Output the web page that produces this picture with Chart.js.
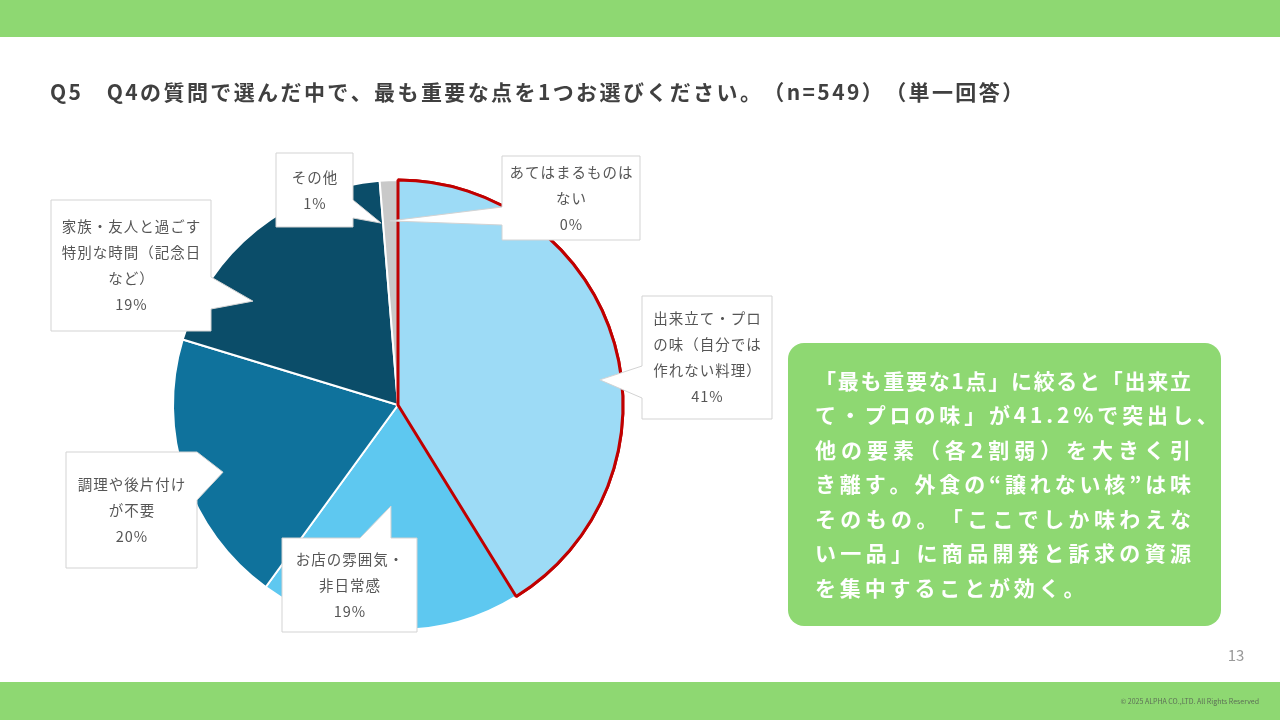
<!DOCTYPE html>
<html lang="ja">
<head>
<meta charset="UTF-8">
<title>Q5 最も重要な点</title>
<script src="https://cdn.jsdelivr.net/npm/chart.js"></script>
<style>
  html, body { margin: 0; padding: 0; background: #fff; }
  #slide { display: block; }
</style>
</head>
<body>
<canvas id="slide" width="1280" height="720"></canvas>
<script>
// data
const categories = [
  '出来立て・プロの味（自分では作れない料理）',
  'お店の雰囲気・非日常感',
  '調理や後片付けが不要',
  '家族・友人と過ごす特別な時間（記念日など）',
  'その他',
  'あてはまるものはない'
];
const shares = [41.2, 18.8, 19.7, 19.0, 1.3, 0.0];
const sliceColors = ['#9ddbf6', '#5ec8f0', '#0f729c', '#0b4d69', '#c9c9c9', '#ffffff'];

const titleText = 'Q5　Q4の質問で選んだ中で、最も重要な点を1つお選びください。（n=549）（単一回答）';
const noteLines = [
  '「最も重要な1点」に絞ると「出来立',
  'て・プロの味」が41.2%で突出し、',
  '他の要素（各2割弱）を大きく引',
  'き離す。外食の“譲れない核”は味',
  'そのもの。「ここでしか味わえな',
  'い一品」に商品開発と訴求の資源',
  'を集中することが効く。'
];

// callout boxes: box, pointer base on one side, tip in polar coords around pie centre
const callouts = [
  { box: [642, 296, 130, 123], side: 'left',  base: [366, 398], tip: [82.9, 0.904], wrap: 7 },
  { box: [282, 538, 135, 94],  side: 'top',   base: [360, 391], tip: [184.0, 0.45], wrap: 7 },
  { box: [66, 452, 131, 116],  side: 'right', base: [452, 500], tip: [249.0, 0.833], wrap: 7 },
  { box: [51, 200, 160, 131],  side: 'right', base: [277, 309], tip: [305.6, 0.793], wrap: 9 },
  { box: [276, 153, 77, 74],   side: 'right', base: [200, 218], tip: [354.7, 0.812], wrap: 9 },
  { box: [502, 156, 138, 84],  side: 'left',  base: [207, 225], tip: [357.5, 0.819], wrap: 8 }
];

const FONT = '"Noto Sans CJK JP", "Noto Sans", sans-serif';
const GREEN = '#8ed872';

function chunk(str, n) {
  const chars = Array.from(str);
  const out = [];
  for (let i = 0; i < chars.length; i += n) out.push(chars.slice(i, i + n).join(''));
  return out;
}

// draw char by char so punctuation is not squeezed together
function spaced(ctx, str, x, y, gap) {
  Array.from(str).forEach(ch => {
    ctx.fillText(ch, x, y);
    x += ctx.measureText(ch).width + gap;
  });
  return x;
}
function plainWidth(ctx, str) {
  return Array.from(str).reduce((s, ch) => s + ctx.measureText(ch).width, 0);
}

function roundRect(ctx, x, y, w, h, r) {
  ctx.beginPath();
  ctx.moveTo(x + r, y);
  ctx.arcTo(x + w, y, x + w, y + h, r);
  ctx.arcTo(x + w, y + h, x, y + h, r);
  ctx.arcTo(x, y + h, x, y, r);
  ctx.arcTo(x, y, x + w, y, r);
  ctx.closePath();
}

const slidePlugin = {
  id: 'slide',
  beforeDraw(chart) {
    const ctx = chart.ctx;
    ctx.save();
    ctx.fillStyle = '#fff';
    ctx.fillRect(0, 0, 1280, 720);
    // top / bottom bars
    ctx.fillStyle = GREEN;
    ctx.fillRect(0, 0, 1280, 37);
    ctx.fillRect(0, 682, 1280, 38);

    // title
    ctx.fillStyle = '#404040';
    ctx.font = 'bold 21px ' + FONT;
    ctx.textBaseline = 'middle';
    ctx.textAlign = 'left';
    spaced(ctx, titleText, 50, 92, 2.4);

    // comment box
    ctx.fillStyle = GREEN;
    roundRect(ctx, 788, 343, 433, 283, 16);
    ctx.fill();
    ctx.fillStyle = '#fff';
    ctx.font = 'bold 21px ' + FONT;
    const full = [0, 2, 3, 4, 5];
    const gaps = full.map(i => {
      const n = Array.from(noteLines[i]).length;
      return (376 - plainWidth(ctx, noteLines[i])) / (n - 1);
    });
    const avg = gaps.reduce((a, b) => a + b, 0) / gaps.length;
    noteLines.forEach((line, i) => {
      const k = full.indexOf(i);
      spaced(ctx, line, 815, 381 + i * 34.5, k >= 0 ? gaps[k] : avg);
    });

    // page number + copyright
    ctx.fillStyle = '#9a9a9a';
    ctx.font = '15px ' + FONT;
    ctx.textAlign = 'center';
    ctx.fillText('13', 1236, 655);
    ctx.fillStyle = '#5d6f57';
    ctx.font = '7px ' + FONT;
    ctx.textAlign = 'right';
    ctx.fillText('© 2025 ALPHA CO.,LTD. All Rights Reserved', 1259, 701);
    ctx.restore();
  },
  afterDatasetsDraw(chart) {
    const ctx = chart.ctx;
    const arcs = chart.getDatasetMeta(0).data;
    // bring the highlighted slice's red outline on top
    arcs[0].draw(ctx);

    const cx = arcs[0].x, cy = arcs[0].y, R = arcs[0].outerRadius;
    ctx.save();
    callouts.forEach((c, i) => {
      const [x, y, w, h] = c.box;
      const a = c.tip[0] * Math.PI / 180;
      const tx = cx + Math.sin(a) * R * c.tip[1];
      const ty = cy - Math.cos(a) * R * c.tip[1];
      const pts = [[x, y]];
      if (c.side === 'top') pts.push([c.base[0], y], [tx, ty], [c.base[1], y]);
      pts.push([x + w, y]);
      if (c.side === 'right') pts.push([x + w, c.base[0]], [tx, ty], [x + w, c.base[1]]);
      pts.push([x + w, y + h], [x, y + h]);
      if (c.side === 'left') pts.push([x, c.base[1]], [tx, ty], [x, c.base[0]]);
      ctx.beginPath();
      pts.forEach((p, k) => k ? ctx.lineTo(p[0], p[1]) : ctx.moveTo(p[0], p[1]));
      ctx.closePath();
      ctx.fillStyle = '#fff';
      ctx.fill();
      ctx.strokeStyle = '#d3d3d3';
      ctx.lineWidth = 1;
      ctx.stroke();

      const lines = chunk(categories[i], c.wrap);
      lines.push(Math.round(shares[i]) + '%');
      const lh = 26;
      const top = y + h / 2 - (lines.length - 1) * lh / 2;
      ctx.fillStyle = '#555';
      ctx.font = '14.5px ' + FONT;
      ctx.letterSpacing = '1px';
      ctx.textAlign = 'center';
      ctx.textBaseline = 'middle';
      lines.forEach((t, k) => ctx.fillText(t, x + w / 2 + 0.5, top + k * lh));
    });
    ctx.restore();
  }
};

new Chart(document.getElementById('slide'), {
  type: 'pie',
  data: {
    labels: categories,
    datasets: [{
      data: shares,
      backgroundColor: sliceColors,
      borderColor: ['#c00000', '#fff', '#fff', '#fff', '#fff', '#fff'],
      borderWidth: [3, 2, 2, 2, 2, 0]
    }]
  },
  options: {
    responsive: false,
    animation: false,
    events: [],
    layout: { padding: { left: 171.5, top: 178.5, right: 655.5, bottom: 88.5 } },
    plugins: { legend: { display: false }, tooltip: { enabled: false } }
  },
  plugins: [slidePlugin]
});
</script>
</body>
</html>
